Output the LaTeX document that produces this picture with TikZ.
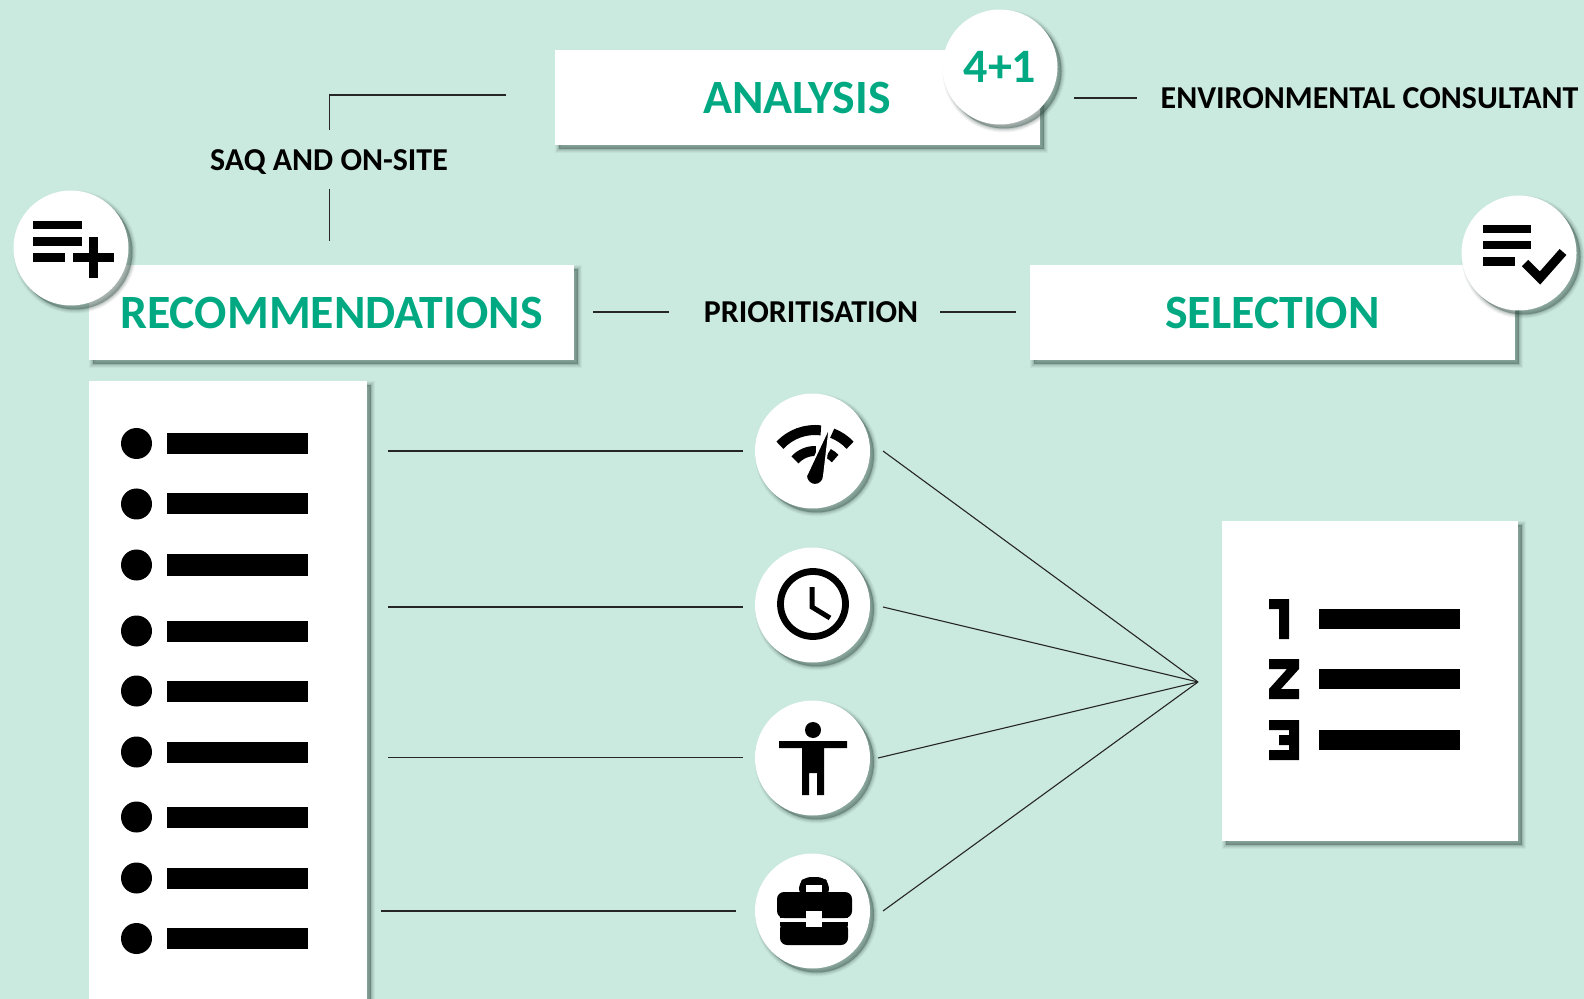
\documentclass[tikz,border=0pt]{standalone}
\usepackage{fontspec}
\setmainfont{Carlito}
\usetikzlibrary{shadows}
\definecolor{bgc}{HTML}{CAE9DF}
\definecolor{grn}{HTML}{00A982}
\definecolor{shc}{HTML}{2F4A42}
\tikzset{
  softshadow/.style={
    general shadow={shadow xshift=2pt,shadow yshift=-2pt,fill=shc,draw=shc,line width=4pt,opacity=.05},
    general shadow={shadow xshift=2pt,shadow yshift=-2pt,fill=shc,draw=shc,line width=3pt,opacity=.07},
    general shadow={shadow xshift=2pt,shadow yshift=-2pt,fill=shc,draw=shc,line width=2pt,opacity=.09},
    general shadow={shadow xshift=2pt,shadow yshift=-2pt,fill=shc,draw=shc,line width=1pt,opacity=.12},
    general shadow={shadow xshift=2pt,shadow yshift=-2pt,fill=shc,draw=none,opacity=.16}},
  whitebox/.style={rectangle,fill=white,inner sep=0pt,outer sep=0pt,softshadow},
  titlebox/.style={whitebox,minimum width=242.5pt,minimum height=47.5pt,text=grn,font=\fontsize{23.9}{28}\selectfont\bfseries},
  badge/.style={circle,fill=white,inner sep=0pt,outer sep=0pt,minimum size=57.5pt,softshadow},
  lbl/.style={inner sep=0pt,font=\fontsize{15.95}{18}\selectfont\bfseries,text=black},
  conn/.style={draw=black!85,line width=.55pt},
  inkline/.style={draw=black,fill=none}
}
\begin{document}
\begin{tikzpicture}[x=0.5pt,y=-0.5pt]
\clip (0,0) rectangle (1584,999);
\fill[bgc] (0,0) rectangle (1584,999);

% connector ends
\coordinate (saqA) at (506,95);
\coordinate (saqB) at (329.5,95);
\coordinate (saqC) at (329.5,130);
\coordinate (saqD) at (329.5,189);
\coordinate (saqE) at (329.5,241);
\coordinate (envA) at (1074,98);
\coordinate (envB) at (1137,98);
\coordinate (priA) at (593,312);
\coordinate (priB) at (669,312);
\coordinate (priC) at (940,312);
\coordinate (priD) at (1016,312);
\coordinate (apex) at (1198,682);
\coordinate (l1a) at (388,451); \coordinate (l1b) at (743,451);
\coordinate (l2a) at (388,607); \coordinate (l2b) at (743,607);
\coordinate (l3a) at (388,757.5); \coordinate (l3b) at (743,757.5);
\coordinate (l4a) at (381,911); \coordinate (l4b) at (736,911);
\coordinate (f1) at (883,451);
\coordinate (f2) at (883,607);
\coordinate (f3) at (878,758);
\coordinate (f4) at (883,911);

% boxes
\node[titlebox] (analysis) at (797,97.5) {\raisebox{-1.5pt}{ANALYSIS}};
\node[titlebox] (recs) at (331.5,312.5) {\raisebox{-1.5pt}{RECOMMENDATIONS}};
\node[titlebox] (sel) at (1272.5,312.5) {\raisebox{-1.5pt}{SELECTION}};
\node[whitebox,minimum width=139pt,minimum height=320pt] (listbox) at (228,701) {};
\node[whitebox,minimum width=148pt,minimum height=160pt] (rankbox) at (1370,681) {};

% badges
\node[badge,text=grn,font=\fontsize{24}{28}\selectfont\bfseries] (four) at (1000,67) {4+1};
\node[badge] (plus) at (71,248) {};
\node[badge] (check) at (1519,253) {};
\node[badge] (speed) at (812.5,451) {};
\node[badge] (clock) at (812.5,605) {};
\node[badge] (person) at (812.5,758) {};
\node[badge] (case) at (812.5,911) {};

% labels
\node[lbl] (saq) at (329,162) {SAQ AND ON-SITE};
\node[lbl] (pri) at (811,312.5) {PRIORITISATION};
\node[lbl] (env) at (1369.5,98.5) {ENVIRONMENTAL CONSULTANT};

% connectors
\draw[conn] (saqA) -- (saqB) -- (saqC);
\draw[conn] (saqD) -- (saqE);
\draw[conn] (envA) -- (envB);
\draw[conn] (priA) -- (priB);
\draw[conn] (priC) -- (priD);
\draw[conn] (l1a) -- (l1b);
\draw[conn] (l2a) -- (l2b);
\draw[conn] (l3a) -- (l3b);
\draw[conn] (l4a) -- (l4b);
\draw[conn] (f1) -- (apex);
\draw[conn] (f2) -- (apex);
\draw[conn] (f3) -- (apex);
\draw[conn] (f4) -- (apex);

% bullet list
\foreach \yy in {443.5,504,565,631,691,752,817,878,938.5}{
  \fill (136.5,\yy) circle[radius=15.5];
  \fill (167,\yy-10.5) rectangle (308,\yy+10.5);
}

% numbered list
\foreach \yy in {619,679,739.5}{
  \fill (1319,\yy-10) rectangle (1460,\yy+10);
}
\fill (1269,599) -- (1289,599) -- (1289,639) -- (1279,639) -- (1279,609) -- (1269,609) -- cycle;
\fill (1269,659) -- (1299,659) -- (1299,669) -- (1281,689) -- (1299,689) -- (1299,699) -- (1269,699) -- (1269,689) -- (1287,669) -- (1269,669) -- cycle;
\fill (1269,720) -- (1299,720) -- (1299,760) -- (1269,760) -- (1269,750) -- (1289,750) -- (1289,745) -- (1279,745) -- (1279,735) -- (1289,735) -- (1289,730) -- (1269,730) -- cycle;

% list-plus icon
\fill (33,221) rectangle (82,229);
\fill (33,237) rectangle (82,246);
\fill (33,253) rectangle (65,262);
\fill (73,253) rectangle (114,262);
\fill (89,237) rectangle (98,278);

% list-check icon
\fill (1483,225) rectangle (1531,233);
\fill (1483,241) rectangle (1531,249);
\fill (1483,257) rectangle (1515,266);
\draw[inkline,line width=4.5pt] (1525,263) -- (1540,278) -- (1563,252);

% speed icon
\draw[inkline,line width=5pt] (815,478) ++(-137:48) arc[start angle=-137,end angle=-83,radius=48];
\draw[inkline,line width=5pt] (815,478) ++(-69:48) arc[start angle=-69,end angle=-43,radius=48];
\draw[inkline,line width=5pt] (815,478) ++(-138:27) arc[start angle=-138,end angle=-88,radius=27];
\draw[inkline,line width=5pt] (815,478) ++(-62:28) arc[start angle=-62,end angle=-44,radius=28];
\filldraw[fill=black,draw=white,line width=1pt] (830,425) -- (824,476) arc[start angle=0,end angle=180,radius=9] -- cycle;

% clock icon
\draw[inkline,line width=3.4pt] (813,604) circle[radius=32.5];
\draw[inkline,line width=2.5pt] (812,587) -- (812,607) -- (830,618);

% person icon
\fill (813,730) circle[radius=8];
\fill (779,741) -- (847,741) -- (847,748) -- (824,748) -- (824,795) -- (817,795) -- (817,773) -- (809,773) -- (809,795) -- (802,795) -- (802,748) -- (779,748) -- cycle;

% briefcase icon
\fill[rounded corners=3pt] (799,895) -- (799,883) -- (805,877) -- (823,877) -- (829,883) -- (829,895) -- cycle;
\fill[white] (806,885) rectangle (822,893);
\fill[rounded corners=3.5pt] (777,892) rectangle (852,918);
\fill[rounded corners=3.5pt] (780,922) rectangle (848,945);
\fill (780,915) rectangle (848,918);
\fill (780,922) rectangle (848,926);
\fill[white] (806,911) rectangle (822,927);
\end{tikzpicture}
\end{document}
